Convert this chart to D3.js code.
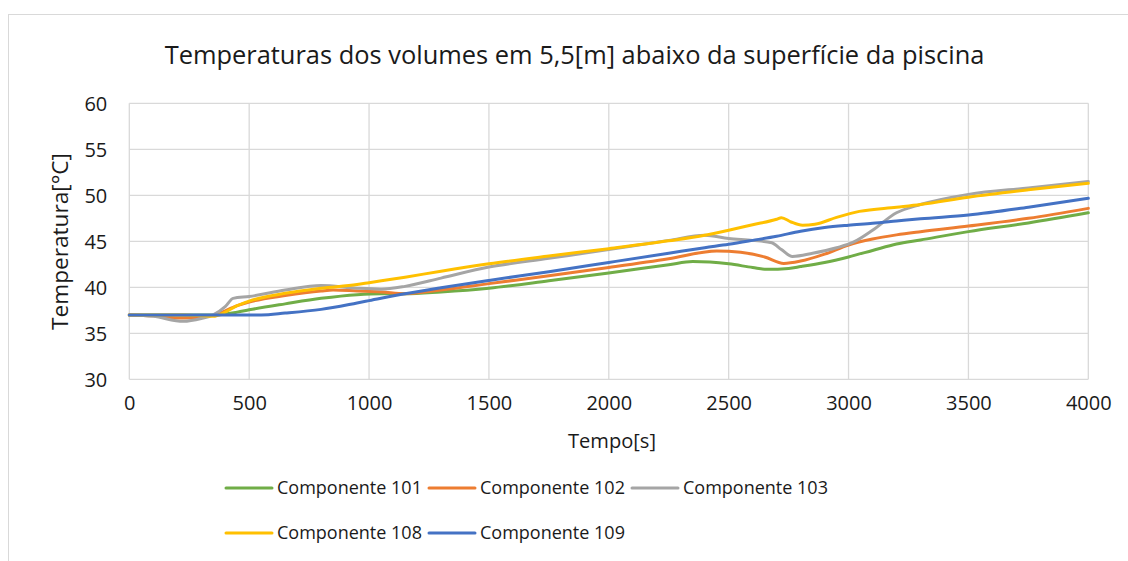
<!DOCTYPE html>
<html>
<head>
<meta charset="utf-8">
<script src="https://cdn.jsdelivr.net/npm/d3@7"></script>
<style>
  html, body { margin: 0; padding: 0; background: #fff; }
  svg { display: block; font-family: "Open Sans", "Noto Sans", sans-serif; }
</style>
</head>
<body>
<svg id="chart" width="1128" height="561"></svg>
<script>
// Time axis ticks and temperature axis ticks
const xTicks = [0, 500, 1000, 1500, 2000, 2500, 3000, 3500, 4000];
const yTicks = [30, 35, 40, 45, 50, 55, 60];

// Componente 101
const t101 = [0, 100, 225, 350, 450, 500, 650, 800, 950, 1050, 1150, 1300, 1500, 1750, 2000, 2250, 2350, 2500, 2600, 2660, 2750, 2800, 2900, 3000, 3100, 3200, 3300, 3500, 3750, 4000];
const v101 = [37, 37, 37, 37, 37.3, 37.55, 38.2, 38.8, 39.2, 39.3, 39.3, 39.5, 39.9, 40.7, 41.55, 42.45, 42.8, 42.55, 42.15, 41.95, 42.05, 42.25, 42.7, 43.3, 44.0, 44.7, 45.15, 46.05, 47.0, 48.1];

// Componente 102
const t102 = [0, 100, 225, 350, 450, 500, 650, 800, 850, 950, 1050, 1150, 1300, 1500, 1750, 2000, 2250, 2450, 2550, 2650, 2730, 2800, 2900, 3000, 3100, 3200, 3300, 3500, 3750, 4000];
const v102 = [37, 36.9, 36.65, 36.95, 38.0, 38.4, 39.1, 39.6, 39.7, 39.6, 39.5, 39.3, 39.7, 40.4, 41.25, 42.15, 43.1, 43.95, 43.8, 43.3, 42.6, 42.85, 43.6, 44.6, 45.25, 45.7, 46.05, 46.66, 47.5, 48.58];

// Componente 103
const t103 = [0, 100, 225, 300, 350, 400, 433, 500, 650, 800, 950, 1050, 1150, 1300, 1500, 1750, 2000, 2250, 2400, 2500, 2600, 2680, 2720, 2766, 2850, 2950, 3020, 3100, 3200, 3300, 3500, 3750, 4000];
const v103 = [37, 36.85, 36.3, 36.6, 37.0, 37.9, 38.8, 39.0, 39.7, 40.2, 39.9, 39.8, 40.1, 41.0, 42.2, 43.15, 44.1, 45.1, 45.65, 45.3, 45.1, 44.85, 44.1, 43.35, 43.7, 44.3, 44.9, 46.2, 48.1, 49.0, 50.1, 50.8, 51.5];

// Componente 108
const t108 = [0, 100, 225, 350, 400, 450, 500, 650, 800, 950, 1000, 1150, 1300, 1500, 1750, 2000, 2250, 2400, 2500, 2600, 2700, 2720, 2760, 2808, 2860, 2950, 3045, 3200, 3300, 3500, 3750, 4000];
const v108 = [37, 37, 37, 36.85, 37.3, 38.0, 38.5, 39.35, 39.9, 40.3, 40.5, 41.1, 41.75, 42.55, 43.4, 44.2, 45.05, 45.65, 46.2, 46.8, 47.4, 47.57, 47.1, 46.75, 46.85, 47.6, 48.25, 48.7, 49.0, 49.8, 50.6, 51.3];

// Componente 109
const t109 = [0, 100, 225, 350, 450, 550, 650, 800, 950, 1000, 1150, 1300, 1500, 1750, 2000, 2250, 2400, 2500, 2600, 2700, 2800, 2900, 3000, 3100, 3200, 3300, 3500, 3750, 4000];
const v109 = [37, 37, 37, 37, 37, 37, 37.2, 37.6, 38.3, 38.55, 39.3, 39.95, 40.75, 41.7, 42.7, 43.7, 44.3, 44.67, 45.1, 45.55, 46.1, 46.5, 46.75, 46.95, 47.2, 47.45, 47.85, 48.7, 49.67];

const seriesNames = ["Componente 101", "Componente 102", "Componente 103", "Componente 108", "Componente 109"];
const seriesColors = ["#70AD47", "#ED7D31", "#A5A5A5", "#FFC000", "#4472C4"];
const seriesTimes = [t101, t102, t103, t108, t109];
const seriesTemps = [v101, v102, v103, v108, v109];

const series = seriesNames.map((name, i) => ({
  name,
  color: seriesColors[i],
  points: seriesTimes[i].map((t, j) => ({ t, v: seriesTemps[i][j] }))
}));

const svg = d3.select("#chart");
const textColor = "#1a1a1a";
const gridColor = "#d9d9d9";

// outer chart frame
svg.append("rect")
  .attr("x", 8.5).attr("y", 14.5)
  .attr("width", 1140).attr("height", 600)
  .attr("fill", "#fff")
  .attr("stroke", gridColor).attr("stroke-width", 1);

const plot = { left: 129.3, right: 1088.3, top: 103.3, bottom: 379.3 };

const x = d3.scaleLinear().domain([0, 4000]).range([plot.left, plot.right]);
const y = d3.scaleLinear().domain([30, 60]).range([plot.bottom, plot.top]);

// shrink or grow a text element's font so it spans the given width
function fitWidth(sel, width) {
  const node = sel.node();
  const fs = parseFloat(sel.attr("font-size"));
  const w = node.getComputedTextLength();
  sel.attr("font-size", (fs * width / w).toFixed(2));
}

// title
const title = svg.append("text")
  .attr("x", 574.5).attr("y", 64)
  .attr("text-anchor", "middle")
  .attr("font-size", 22)
  .attr("fill", textColor)
  .text("Temperaturas dos volumes em 5,5[m] abaixo da superfície da piscina");
fitWidth(title, 820);

// gridlines
const grid = svg.append("g");
grid.selectAll("line.h").data(yTicks).join("line")
  .attr("x1", plot.left).attr("x2", plot.right)
  .attr("y1", d => y(d)).attr("y2", d => y(d))
  .attr("stroke", gridColor).attr("stroke-width", 1.3);
grid.selectAll("line.v").data(xTicks).join("line")
  .attr("x1", d => x(d)).attr("x2", d => x(d))
  .attr("y1", plot.top).attr("y2", plot.bottom)
  .attr("stroke", gridColor).attr("stroke-width", 1.3);

// axes (labels only)
const xAxis = svg.append("g")
  .attr("transform", `translate(0,${plot.bottom})`)
  .call(d3.axisBottom(x).tickValues(xTicks).tickSize(0).tickPadding(22).tickFormat(d3.format("d")));
const yAxis = svg.append("g")
  .attr("transform", `translate(${plot.left},0)`)
  .call(d3.axisLeft(y).tickValues(yTicks).tickSize(0).tickPadding(22).tickFormat(d3.format("d")));
[xAxis, yAxis].forEach(a => {
  a.select(".domain").remove();
  a.selectAll("text")
    .attr("font-size", 20)
    .attr("font-family", "'Open Sans', 'Noto Sans', sans-serif")
    .attr("fill", textColor);
});
yAxis.selectAll("text").attr("dy", "0.36em");
xAxis.selectAll("text").attr("dy", "0.72em").attr("y", 16);

// axis titles
const xTitle = svg.append("text")
  .attr("x", 612).attr("y", 448)
  .attr("text-anchor", "middle")
  .attr("font-size", 20)
  .attr("fill", textColor)
  .text("Tempo[s]");
fitWidth(xTitle, 88);

const yTitle = svg.append("text")
  .attr("transform", "translate(68,241.5) rotate(-90)")
  .attr("text-anchor", "middle")
  .attr("font-size", 20)
  .attr("fill", textColor)
  .text("Temperatura[°C]");
fitWidth(yTitle, 177);

// series lines
const line = d3.line()
  .x(d => x(d.t))
  .y(d => y(d.v))
  .curve(d3.curveMonotoneX);

svg.append("g").selectAll("path").data(series).join("path")
  .attr("d", d => line(d.points))
  .attr("fill", "none")
  .attr("stroke", d => d.color)
  .attr("stroke-width", 3)
  .attr("stroke-linejoin", "round")
  .attr("stroke-linecap", "round");

// legend: two rows, three columns
const legendCols = [226, 429, 632];
const legendRows = [488, 533];
const legend = svg.append("g");
series.forEach((s, i) => {
  const cx = legendCols[i % 3];
  const cy = legendRows[Math.floor(i / 3)];
  const g = legend.append("g");
  g.append("line")
    .attr("x1", cx).attr("x2", cx + 46)
    .attr("y1", cy).attr("y2", cy)
    .attr("stroke", s.color).attr("stroke-width", 3)
    .attr("stroke-linecap", "round");
  const t = g.append("text")
    .attr("x", cx + 51).attr("y", cy)
    .attr("dy", "0.36em")
    .attr("font-size", 18)
    .attr("fill", textColor)
    .text(s.name);
  fitWidth(t, 145);
});
</script>
</body>
</html>
